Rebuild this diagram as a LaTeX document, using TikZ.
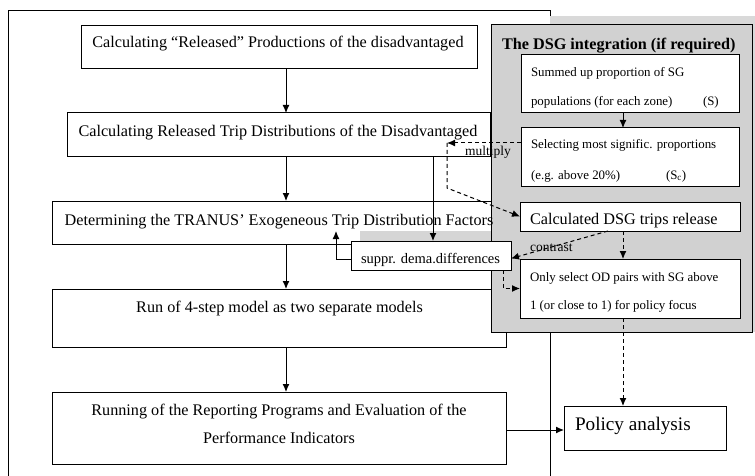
\documentclass[tikz,border=0pt]{standalone}
\usepackage{fontspec}
\setmainfont{Liberation Serif}
\usetikzlibrary{arrows.meta}
\newcommand\fmain{\fontsize{16.2}{19}\selectfont}
\newcommand\fsmall{\fontsize{12.9}{15}\selectfont}
\newcommand\fmid{\fontsize{14.5}{17}\selectfont}
\newcommand\flab{\fontsize{13.5}{16}\selectfont}
\newcommand\fbig{\fontsize{19.2}{22}\selectfont}
\begin{document}
\begin{tikzpicture}[x=1pt,y=-1pt,
  box/.style={draw=black, line width=1pt, fill=white, inner sep=0pt, outer sep=0pt},
  txt/.style={inner sep=0pt, outer sep=0pt, text=black},
  arr/.style={line width=1pt, -{Latex[length=8pt,width=7pt]}},
  darr/.style={arr, dash pattern=on 4pt off 3pt},
  mgray/.style={fill=gray!36}]
\useasboundingbox (0,0) rectangle (755,476);
\fill[white] (0,0) rectangle (755,476);
% outer frame
\draw[line width=1pt] (8,476) -- (8,11) -- (550,11) -- (550,476);
% left column boxes
\node[box, minimum width=396pt, minimum height=43pt] (b1) at (279,47.5) {};
\node[box, minimum width=423pt, minimum height=44pt] (b2) at (278.5,135) {};
\node[box, minimum width=439pt, minimum height=43pt] (b3) at (271.5,222.5) {};
\node[box, minimum width=454pt, minimum height=58pt] (b4) at (279,318) {};
\node[box, minimum width=454pt, minimum height=72pt] (b5) at (279,428) {};
\node[box, minimum width=162pt, minimum height=44pt] (pol) at (645,428) {};
% gray panel
\fill[gray!30] (550,16) rectangle (755,332);
\node[draw=black, line width=1pt, mgray, inner sep=0pt, outer sep=0pt, minimum width=261pt, minimum height=307pt] (gbox) at (621.5,178.5) {};
\node[box, minimum width=218pt, minimum height=58pt] (A) at (630,84) {};
\node[box, minimum width=218pt, minimum height=58pt] (B) at (630,157) {};
\node[box, minimum width=220pt, minimum height=29pt] (C) at (630,216.5) {};
\node[box, minimum width=220pt, minimum height=59pt] (D) at (630,288.5) {};
% gray strip behind suppr box
\fill[gray!33] (360,231) rectangle (491,268);
\node[box, minimum width=160pt, minimum height=29pt] (sup) at (431,255.5) {};
% texts
\node[txt, anchor=base] (t1) at (278,48) {\fmain Calculating “Released” Productions of the disadvantaged};
\node[txt, anchor=base] (t2) at (278,137) {\fmain Calculating Released Trip Distributions of the Disadvantaged};
\node[txt, anchor=base] (t3) at (279,225) {\fmain Determining the TRANUS’ Exogeneous Trip Distribution Factors};
\node[txt, anchor=base] (t4) at (279.5,312) {\fmain Run of 4-step model as two separate models};
\node[txt, anchor=base] (t5a) at (279,415) {\fmain Running of the Reporting Programs and Evaluation of the};
\node[txt, anchor=base] (t5b) at (279,443) {\fmain Performance Indicators};
\node[txt, anchor=base west] (tp) at (575,430) {\fbig Policy analysis};
\node[txt, anchor=base west] (tg) at (502,50) {\fmain\bfseries The DSG integration (if required)};
\node[txt, anchor=base west] (tA1) at (531,77) {\fsmall Summed up proportion of SG};
\node[txt, anchor=base west] (tA2) at (531,106) {\fsmall populations (for each zone)};
\node[txt, anchor=base west] (tA3) at (703,106) {\fsmall (S)};
\node[txt, anchor=base west] (tB1) at (531,149) {\fsmall Selecting most signific. proportions};
\node[txt, anchor=base west] (tB2) at (531,179) {\fsmall (e.g. above 20\%)};
\node[txt, anchor=base west] (tB3) at (666,179) {\fsmall (S\textsubscript{c})};
\node[txt, anchor=base west] (tC) at (530,224) {\fmain Calculated DSG trips release};
\node[txt, anchor=base west] (tD1) at (530,281) {\fsmall Only select OD pairs with SG above};
\node[txt, anchor=base west] (tD2) at (530,309) {\fsmall 1 (or close to 1) for policy focus};
\node[txt, anchor=base west] (ts) at (361,263) {\fmid suppr. dema.differences};
% coordinates
\coordinate (ax) at (286,0);
\coordinate (cx) at (623,0);
\coordinate (sx) at (433,0);
\coordinate (py) at (0,430);
\coordinate (s3y) at (0,259);
\coordinate (t3tip) at (336,231);
\coordinate (m1) at (447,143);
\coordinate (m2) at (447,188);
\coordinate (cs) at (608,0);
\coordinate (sd) at (503,0);
% solid connectors
\draw[arr] (b1.south -| ax) -- (b2.north -| ax);
\draw[arr] (b2.south -| ax) -- (b3.north -| ax);
\draw[arr] (b3.south -| ax) -- (b4.north -| ax);
\draw[arr] (b4.south -| ax) -- (b5.north -| ax);
\draw[arr] (b5.east |- py) -- (pol.west |- py);
\draw[arr] (A.south -| cx) -- (B.north -| cx);
\draw[arr] (b2.south -| sx) -- (sup.north -| sx);
\draw[arr] (sup.west |- s3y) -| (t3tip);
% dashed connectors
\draw[darr] (B.west |- m1) -- (m1);
\draw[darr] (m1) -- (m2) -- (C.west);
\draw[darr] (C.south -| cx) -- (D.north -| cx);
\draw[darr] (D.south -| cx) -- (pol.north -| cx);
\draw[darr] (C.south -| cs) -- ([yshift=-3pt]sup.east);
\draw[darr] (sup.south -| sd) |- (D.west);
% labels
\node[txt, anchor=base west] (lm) at (465,156) {\flab multiply};
\node[txt, anchor=base west] (lc) at (530,251) {\flab contrast};
\end{tikzpicture}
\end{document}
